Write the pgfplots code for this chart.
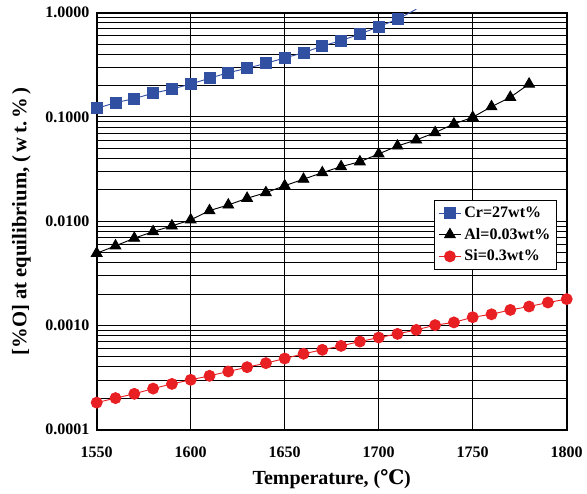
\documentclass[border=0pt]{standalone}
\usepackage{pgfplots}
\pgfplotsset{compat=1.18}
\usepackage{fontspec}
\setmainfont{Liberation Serif}
\newfontfamily\dejavuserif{DejaVu Serif}
\definecolor{crblue}{RGB}{49,80,162}
\definecolor{sired}{RGB}{232,32,36}
\begin{document}
\begin{tikzpicture}[x=0.75pt,y=0.75pt]
\begin{axis}[
  scale only axis,
  width=352.5pt, height=312.75pt,
  ymode=log,
  xmin=1550, xmax=1800,
  ymin=0.0001, ymax=1,
  xtick={1550,1600,1650,1700,1750,1800},
  ytick={0.0001,0.001,0.01,0.1,1},
  yticklabels={0.0001,0.0010,0.0100,0.1000,1.0000},
  xticklabels={1550,1600,1650,1700,1750,1800},
  major tick length=0pt, minor tick length=0pt,
  grid=both,
  major grid style={black, line width=0.8pt},
  minor grid style={black, line width=0.7pt},
  minor x tick num=0,
  axis line style={line width=1.5pt},
  ticklabel style={font=\bfseries\fontsize{12}{14}\selectfont},
  xticklabel style={yshift=-9pt},
  yticklabel style={xshift=-2pt},
  xlabel={\textbf{Temperature, ({\dejavuserif\bfseries ℃})}},
  ylabel={\textbf{[\%O] at equilibrium, (\,w\,t.\,\%\,)}},
  xlabel style={font=\fontsize{15}{17}\selectfont, yshift=-2pt},
  ylabel style={font=\fontsize{15.5}{17}\selectfont, yshift=4pt},
  legend style={at={(0.979,0.55)}, anchor=north east, draw=black, line width=0.6pt,
    font=\bfseries\fontsize{12}{14}\selectfont, row sep=2.5pt, inner sep=2.5pt},
  legend cell align=left,
  clip=false,
]
\addplot[crblue, line width=0.7pt, mark=square*, mark size=4.1pt, mark options={fill=crblue, draw=crblue}] coordinates {
(1550,0.121)(1560,0.137)(1570,0.150)(1580,0.169)(1590,0.185)(1600,0.207)
(1610,0.235)(1620,0.266)(1630,0.293)(1640,0.327)(1650,0.368)(1660,0.413)
(1670,0.480)(1680,0.539)(1690,0.625)(1700,0.734)(1710,0.865)};
\addlegendentry{Cr=27wt\%}
\addplot[black, line width=0.7pt, mark=triangle*, mark size=4.6pt, mark options={fill=black}] coordinates {
(1550,0.00493)(1560,0.00580)(1570,0.00687)(1580,0.00795)(1590,0.00901)(1600,0.0103)
(1610,0.01264)(1620,0.01432)(1630,0.0166)(1640,0.0188)(1650,0.0219)(1660,0.0253)
(1670,0.0292)(1680,0.0334)(1690,0.0372)(1700,0.0442)(1710,0.0527)(1720,0.0602)
(1730,0.0708)(1740,0.0857)(1750,0.0993)(1760,0.1256)(1770,0.1545)(1780,0.207)};
\addlegendentry{Al=0.03wt\%}
\addplot[sired, line width=0.7pt, mark=*, mark size=4.1pt, mark options={fill=sired, draw=sired}] coordinates {
(1550,0.000182)(1560,0.000201)(1570,0.000221)(1580,0.000248)(1590,0.000275)(1600,0.000301)
(1610,0.000329)(1620,0.000362)(1630,0.000398)(1640,0.000435)(1650,0.000482)(1660,0.000535)
(1670,0.000584)(1680,0.000637)(1690,0.000701)(1700,0.000766)(1710,0.000830)(1720,0.000907)
(1730,0.001007)(1740,0.00107)(1750,0.00120)(1760,0.00128)(1770,0.00141)(1780,0.00152)
(1790,0.00166)(1800,0.00179)};
\addlegendentry{Si=0.3wt\%}
\addplot[crblue, line width=0.7pt, forget plot] coordinates {(1710,0.865)(1720,1.08)};
\end{axis}
\pgfresetboundingbox
\useasboundingbox ([xshift=-96.7*0.75pt, yshift=-64*0.75pt]current axis.south west) rectangle ([xshift=20.3*0.75pt, yshift=12.7*0.75pt]current axis.north east);
\end{tikzpicture}
\end{document}
